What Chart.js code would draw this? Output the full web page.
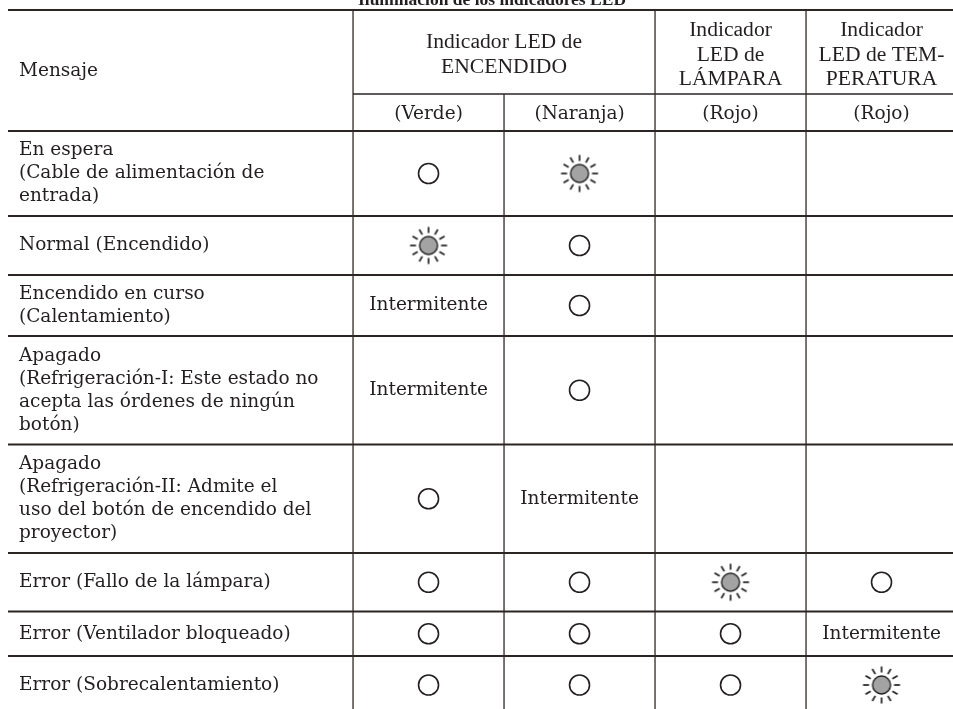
<!DOCTYPE html>
<html><head><meta charset="utf-8">
<script src="https://cdn.jsdelivr.net/npm/chart.js@4/dist/chart.umd.min.js"></script>
<style>html,body{margin:0;padding:0;overflow:hidden;background:#fff}canvas{display:block}</style>
</head><body><canvas id="c" width="953" height="709"></canvas>
<script>
// ---------- data ----------
const title = "Iluminación de los indicadores LED";
const messageHeader = "Mensaje";
const groupHeaders = [
  { text: ["Indicador LED de", "ENCENDIDO"], from: 0, to: 1 },
  { text: ["Indicador", "LED de", "LÁMPARA"], from: 2, to: 2 },
  { text: ["Indicador", "LED de TEM-", "PERATURA"], from: 3, to: 3 }
];
const colorLabels = ["(Verde)", "(Naranja)", "(Rojo)", "(Rojo)"];
const messages = [
  ["En espera", "(Cable de alimentación de", "entrada)"],
  ["Normal (Encendido)"],
  ["Encendido en curso", "(Calentamiento)"],
  ["Apagado", "(Refrigeración-I: Este estado no", "acepta las órdenes de ningún", "botón)"],
  ["Apagado", "(Refrigeración-II: Admite el", "uso del botón de encendido del", "proyector)"],
  ["Error (Fallo de la lámpara)"],
  ["Error (Ventilador bloqueado)"],
  ["Error (Sobrecalentamiento)"]
];
// 0 = apagado (○), 1 = encendido (☼), 2 = Intermitente, null = vacío
const verde       = [0, 1, 2, 2, 0, 0, 0, 0];
const naranja     = [1, 0, 0, 0, 2, 0, 0, 0];
const lampara     = [null, null, null, null, null, 1, 0, 0];
const temperatura = [null, null, null, null, null, 0, 2, 1];
const blinkText = "Intermitente";

// ---------- layout (not data) ----------
const LAYOUT = {
  msgColWidth: 2.285, ledColWidth: 1,
  headerHeights: [84, 37],
  rowHeights: [85, 59, 61, 108.5, 108.5, 58.5, 44.5, 58],
  visibleWidth: 6.2583,   // table is cut by the right edge of the page
  visibleHeight: 699      // ... and by the bottom edge
};
const INK = '#231f20';
const HEAD_FONT = '21.6px "Liberation Serif", serif';
const HEAD_LH = 24.5;
const BODY_FONT = '18.5px "DejaVu Serif", serif';
const BODY_LH = 23;

const columns = [verde, naranja, lampara, temperatura];
const xEdges = [0, LAYOUT.msgColWidth];
columns.forEach(() => xEdges.push(xEdges[xEdges.length - 1] + LAYOUT.ledColWidth));
const yEdges = [0];
LAYOUT.headerHeights.concat(LAYOUT.rowHeights).forEach(h => yEdges.push(yEdges[yEdges.length - 1] + h));
const rowTop = r => yEdges[r + 2], rowBot = r => yEdges[r + 3];
const rowMid = r => (rowTop(r) + rowBot(r)) / 2;
const colMid = c => (xEdges[c + 1] + xEdges[c + 2]) / 2;

const offPts = [], onPts = [], blinkPts = [];
columns.forEach((col, c) => col.forEach((s, r) => {
  const p = { x: colMid(c), y: rowMid(r) };
  if (s === 0) offPts.push(p); else if (s === 1) onPts.push(p); else if (s === 2) blinkPts.push(p);
}));

// sun icon (LED encendido)
const sun = document.createElement('canvas');
sun.width = 40; sun.height = 40;
(function () {
  const g = sun.getContext('2d');
  g.strokeStyle = INK; g.lineWidth = 1.7; g.lineCap = 'butt';
  for (let i = 0; i < 12; i++) {
    const a = i * Math.PI / 6;
    g.beginPath();
    g.moveTo(20 + Math.cos(a) * 12.5, 20 + Math.sin(a) * 12.5);
    g.lineTo(20 + Math.cos(a) * 18.5, 20 + Math.sin(a) * 18.5);
    g.stroke();
  }
  g.beginPath(); g.arc(20, 20, 9, 0, Math.PI * 2);
  g.fillStyle = '#a3a3a3'; g.fill();
  g.lineWidth = 1.4; g.stroke();
})();

function lines(ctx, arr, x, yMid, lh, align) {
  ctx.textAlign = align;
  const y0 = yMid - (arr.length - 1) * lh / 2;
  arr.forEach((t, i) => ctx.fillText(t, x, y0 + i * lh));
}

const tablePlugin = {
  id: 'table',
  beforeDatasetsDraw(chart) {
    const ctx = chart.ctx, xs = chart.scales.x, ys = chart.scales.y;
    const X = v => xs.getPixelForValue(v), Y = v => ys.getPixelForValue(v);
    ctx.save();
    // title (cut at top edge)
    ctx.fillStyle = INK; ctx.font = 'bold 17.5px "Liberation Serif", serif';
    ctx.textAlign = 'center'; ctx.textBaseline = 'alphabetic';
    ctx.fillText(title, 492, 5);
    // horizontal lines
    ctx.strokeStyle = '#2b2523';
    const hline = (y, x0, x1, w) => { ctx.lineWidth = w; ctx.beginPath(); ctx.moveTo(x0, y); ctx.lineTo(x1, y); ctx.stroke(); };
    const L = X(0), R = X(xEdges[xEdges.length - 1]);
    hline(Y(yEdges[0]), L, R, 2);
    hline(Y(yEdges[1]), X(xEdges[1]), R, 1.5);
    for (let i = 2; i < yEdges.length; i++) hline(Y(yEdges[i]), L, R, 2.2);
    // vertical lines
    ctx.strokeStyle = '#2f2826'; ctx.lineWidth = 1.3;
    const vline = (x, y0, y1) => { ctx.beginPath(); ctx.moveTo(x, y0); ctx.lineTo(x, y1); ctx.stroke(); };
    const T = Y(yEdges[0]), B = Y(yEdges[yEdges.length - 1]);
    for (let i = 1; i < xEdges.length; i++) {
      const startAtSplit = groupHeaders.some(g => i - 1 > g.from && i - 1 <= g.to);
      vline(X(xEdges[i]), startAtSplit ? Y(yEdges[1]) : T, B);
    }
    // header texts
    ctx.fillStyle = INK; ctx.textBaseline = 'middle';
    ctx.font = BODY_FONT;
    ctx.textAlign = 'left';
    ctx.fillText(messageHeader, X(0) + 11, Y(yEdges[2] / 2) + 1);
    ctx.font = HEAD_FONT;
    groupHeaders.forEach(g => {
      const cx = (X(xEdges[g.from + 1]) + X(xEdges[g.to + 2])) / 2;
      lines(ctx, g.text, cx, Y((yEdges[0] + yEdges[1]) / 2) + 3, HEAD_LH, 'center');
    });
    ctx.font = BODY_FONT;
    colorLabels.forEach((t, c) => {
      ctx.textAlign = 'center';
      ctx.fillText(t, X(colMid(c)), Y((yEdges[1] + yEdges[2]) / 2) + 1.5);
    });
    // message texts
    messages.forEach((m, r) => lines(ctx, m, X(0) + 11, Y(rowMid(r)), BODY_LH, 'left'));
    ctx.restore();
  },
  afterDatasetsDraw(chart) {
    const ctx = chart.ctx, xs = chart.scales.x, ys = chart.scales.y;
    ctx.save();
    ctx.fillStyle = INK; ctx.font = BODY_FONT; ctx.textAlign = 'center'; ctx.textBaseline = 'middle';
    chart.data.datasets[2].data.forEach(p => ctx.fillText(blinkText, xs.getPixelForValue(p.x), ys.getPixelForValue(p.y)));
    ctx.restore();
  }
};

new Chart(document.getElementById('c'), {
  type: 'scatter',
  data: {
    datasets: [
      { label: 'Apagado', data: offPts, pointStyle: 'circle', pointRadius: 10, pointBackgroundColor: '#fff', pointBorderColor: INK, pointBorderWidth: 1.6 },
      { label: 'Encendido', data: onPts, pointStyle: sun, pointRadius: 20 },
      { label: 'Intermitente', data: blinkPts, pointRadius: 0 }
    ]
  },
  options: {
    responsive: false, animation: false, events: [], devicePixelRatio: 1,
    layout: { autoPadding: false, padding: { left: 8, top: 10, right: 0, bottom: 0 } },
    scales: {
      x: { type: 'linear', min: 0, max: LAYOUT.visibleWidth, display: false },
      y: { type: 'linear', min: 0, max: LAYOUT.visibleHeight, reverse: true, display: false }
    },
    plugins: { legend: { display: false }, tooltip: { enabled: false } }
  },
  plugins: [tablePlugin]
});
</script></body></html>
